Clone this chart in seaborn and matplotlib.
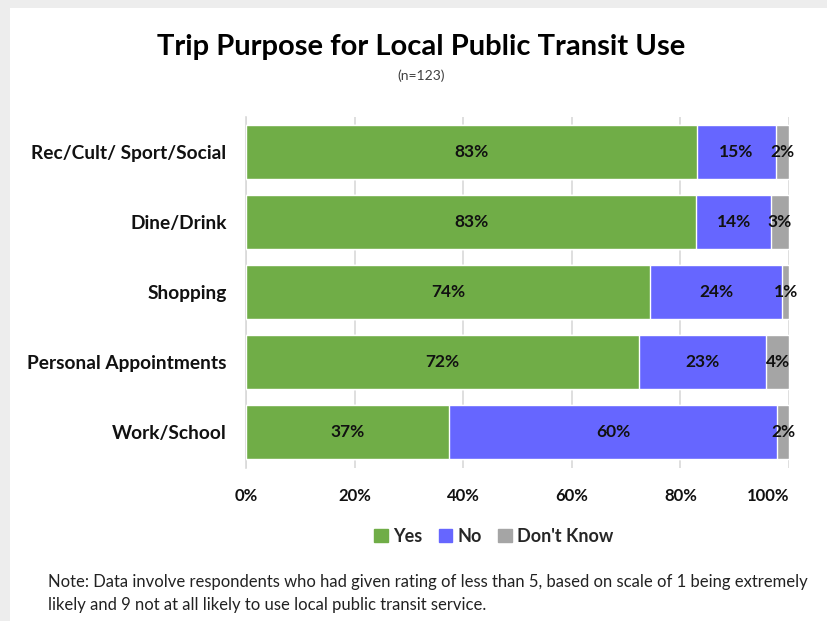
import matplotlib
matplotlib.use("Agg")
import matplotlib.pyplot as plt
import matplotlib.patches as mpatches
import numpy as np
import pandas as pd
import seaborn as sns

# Survey shares (percent of respondents) per trip purpose
categories = ["Rec/Cult/ Sport/Social", "Dine/Drink", "Shopping",
              "Personal Appointments", "Work/School"]
yes_pct = [83.0, 82.9, 74.4, 72.4, 37.4]
no_pct = [14.6, 13.8, 24.4, 23.4, 60.4]
dk_pct = [2.4, 3.3, 1.2, 4.2, 2.2]
series_names = ["Yes", "No", "Don't Know"]
series_colors = ["#70AD47", "#6666FF", "#A5A5A5"]
x_ticks = [0, 20, 40, 60, 80, 100]
x_tick_labels = ["0%", "20%", "40%", "60%", "80%", "100%"]

df = pd.DataFrame({"purpose": categories, "Yes": yes_pct,
                   "No": no_pct, "Don't Know": dk_pct})
df["cum_yes"] = df["Yes"]
df["cum_no"] = df["Yes"] + df["No"]
df["cum_dk"] = df["cum_no"] + df["Don't Know"]

sns.set_theme(style="white")
plt.rcParams["font.family"] = ["Lato", "DejaVu Sans"]

fig = plt.figure(figsize=(8.28, 6.21), dpi=100, facecolor="white")
# grey window frame along the left and top edges
fig.patches.append(mpatches.Rectangle((0, 0), 10 / 828, 1,
                                      transform=fig.transFigure,
                                      facecolor="#EDEDED", edgecolor="none",
                                      zorder=-10))
fig.patches.append(mpatches.Rectangle((0, 1 - 8 / 621), 1, 8 / 621,
                                      transform=fig.transFigure,
                                      facecolor="#EDEDED", edgecolor="none",
                                      zorder=-10))

ax = fig.add_axes([246 / 828, 1 - 467.5 / 621, 543 / 828, 351 / 621])
ax.set_facecolor("none")

# stacked bars: draw cumulative totals back to front
for col, color in zip(["cum_dk", "cum_no", "cum_yes"], series_colors[::-1]):
    sns.barplot(data=df, x=col, y="purpose", orient="h", color=color,
                width=0.77, saturation=1, ax=ax, zorder=3)

# segment labels
for i, row in df.iterrows():
    starts = [0, row["cum_yes"], row["cum_no"]]
    for s, name in zip(starts, series_names):
        v = row[name]
        ax.text(s + v / 2, i, f"{v:.0f}%", ha="center", va="center",
                fontsize=12.5, fontweight="bold", color="#111111", zorder=5)

ax.set_xlim(0, 100)
ax.set_ylim(4.5, -0.5)
ax.set_xticks(x_ticks)
ax.set_xticklabels(x_tick_labels, fontsize=12, fontweight="bold", color="#111111")
# keep the last tick label inside the plot width
ax.get_xticklabels()[-1].set_horizontalalignment("right")
ax.tick_params(axis="x", length=0, pad=15)
ax.tick_params(axis="y", length=0, pad=14, labelsize=13.8)
for lbl in ax.get_yticklabels():
    lbl.set_fontweight("bold")
    lbl.set_color("#111111")
ax.set_xlabel("")
ax.set_ylabel("")
ax.grid(axis="x", color="#D9D9D9", linewidth=1.2, zorder=0)
for side in ["top", "right", "bottom"]:
    ax.spines[side].set_visible(False)
ax.spines["left"].set_color("#D9D9D9")
ax.spines["left"].set_linewidth(1.2)

handles = [mpatches.Patch(color=c, label=n) for n, c in zip(series_names, series_colors)]
fig.legend(handles=handles, loc="center", bbox_to_anchor=(494 / 828, 1 - 536 / 621),
           ncol=3, frameon=False, handlelength=0.75, handleheight=0.75,
           handletextpad=0.3, columnspacing=0.9, prop={"weight": "bold", "size": 13})

fig.text(421 / 828, 1 - 47 / 621, "Trip Purpose for Local Public Transit Use",
         ha="center", va="center", fontsize=21, fontweight="bold", color="black")
fig.text(421 / 828, 1 - 76 / 621, "(n=123)", ha="center", va="center",
         fontsize=10, fontweight="normal", color="#404040")
fig.text(48 / 828, 1 - 582 / 621,
         "Note: Data involve respondents who had given rating of less than 5, based on scale of 1 being extremely",
         ha="left", va="center", fontsize=12, color="#222222")
fig.text(48 / 828, 1 - 605 / 621,
         "likely and 9 not at all likely to use local public transit service.",
         ha="left", va="center", fontsize=12, color="#222222")

fig.savefig("out.png", dpi=100, facecolor=fig.get_facecolor())
